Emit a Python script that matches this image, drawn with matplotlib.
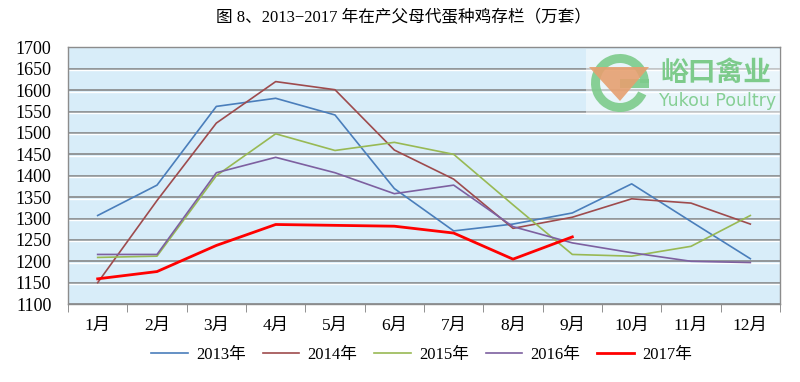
import matplotlib
matplotlib.use("Agg")
import matplotlib.pyplot as plt
import matplotlib.patches as mpatches
import matplotlib.transforms as mtransforms
import numpy as np

plt.rcParams['font.family'] = ['Liberation Serif', 'Noto Sans CJK SC', 'DejaVu Sans']

# ---------------- data ----------------
months = ["1月", "2月", "3月", "4月", "5月", "6月", "7月", "8月", "9月", "10月", "11月", "12月"]
y2013 = [1307, 1378, 1562, 1581, 1542, 1370, 1271, 1287, 1313, 1381, 1293, 1206]
y2014 = [1150, 1342, 1523, 1620, 1601, 1460, 1392, 1277, 1303, 1346, 1336, 1287]
y2015 = [1209, 1212, 1400, 1498, 1459, 1478, 1450, 1332, 1216, 1212, 1235, 1307]
y2016 = [1216, 1216, 1407, 1443, 1407, 1358, 1378, 1281, 1243, 1220, 1200, 1197]
y2017 = [1159, 1176, 1237, 1286, 1284, 1282, 1266, 1205, 1257]
labels = ["2013年", "2014年", "2015年", "2016年", "2017年"]
colors = ["#4A7EBB", "#9E4B4D", "#98B954", "#7D60A0", "#FF0000"]
yticks = np.arange(1100, 1701, 50)

fig = plt.figure(figsize=(8, 3.82), dpi=100)
ax = fig.add_axes([0.085, 0.204, 0.89, 0.672])
ax.set_facecolor("#D8EDF9")

x = np.arange(len(months))
series = [y2013, y2014, y2015, y2016, y2017]
for vals, lab, col in zip(series, labels, colors):
    lw = 2.0 if lab == "2017年" else 1.2
    ax.plot(x[:len(vals)], vals, color=col, lw=lw, label=lab, zorder=3)

ax.set_xlim(-0.5, 11.5)
ax.set_ylim(1100, 1700)
ax.set_yticks(yticks)
ax.set_xticks(x)
ax.set_xticklabels(months)
ax.set_xticks(np.arange(-0.5, 12, 1), minor=True)
ax.tick_params(axis='x', which='major', length=0, pad=10, labelsize=12.5)
ax.tick_params(axis='x', which='minor', length=6, color="#7f7f7f", direction='out')
ax.tick_params(axis='y', length=0, pad=12, labelsize=13)

# gridlines: grey line with a thin white highlight under it
ax.grid(axis='y', color="#7f7f7f", lw=1.1, zorder=1)
ax.set_axisbelow(True)
off = mtransforms.ScaledTranslation(0, -1.5 / 100, fig.dpi_scale_trans)
for yv in yticks[1:-1]:
    ax.plot([0, 1], [yv, yv], color="white", lw=1.0, zorder=1.5,
            transform=ax.get_yaxis_transform() + off)

for sp in ax.spines.values():
    sp.set_color("#8c8c8c")
    sp.set_linewidth(1.0)

fig.text(0.505, 0.952, "图 8、2013−2017 年在产父母代蛋种鸡存栏（万套）",
         ha='center', va='center', fontsize=12)

fig.legend(loc='center', bbox_to_anchor=(0.527, 0.071), ncol=5, frameon=False,
           fontsize=12, handlelength=2.2, columnspacing=1.0, handletextpad=0.5)

# ---------------- watermark logo (pixel coordinates) ----------------
ov = fig.add_axes([0, 0, 1, 1], zorder=10)
ov.set_xlim(0, 800)
ov.set_ylim(382, 0)
ov.axis('off')
ov.add_patch(mpatches.Rectangle((586, 49), 194, 66, facecolor="white", alpha=0.45, lw=0))
ov.add_patch(mpatches.Wedge((620, 83), 29, 25, 360, width=9, facecolor="#7DCB8B", lw=0, alpha=0.9))
ov.add_patch(mpatches.Rectangle((620, 79), 29, 9, facecolor="#7DCB8B", lw=0, alpha=0.9))
ov.add_patch(mpatches.Polygon([(589, 67), (649, 67), (620, 101)], closed=True,
                              facecolor="#E6A070", lw=0, alpha=0.9))
ov.text(716, 73, "峪口禽业", family=['Noto Sans CJK SC'], fontsize=20, fontweight='bold',
        color="#7DCB8B", ha='center', va='center')
ov.text(718, 101, "Yukou Poultry", family=['DejaVu Sans'], fontsize=12.5,
        color="#86CF94", ha='center', va='center')

fig.savefig("out.png", dpi=100)
